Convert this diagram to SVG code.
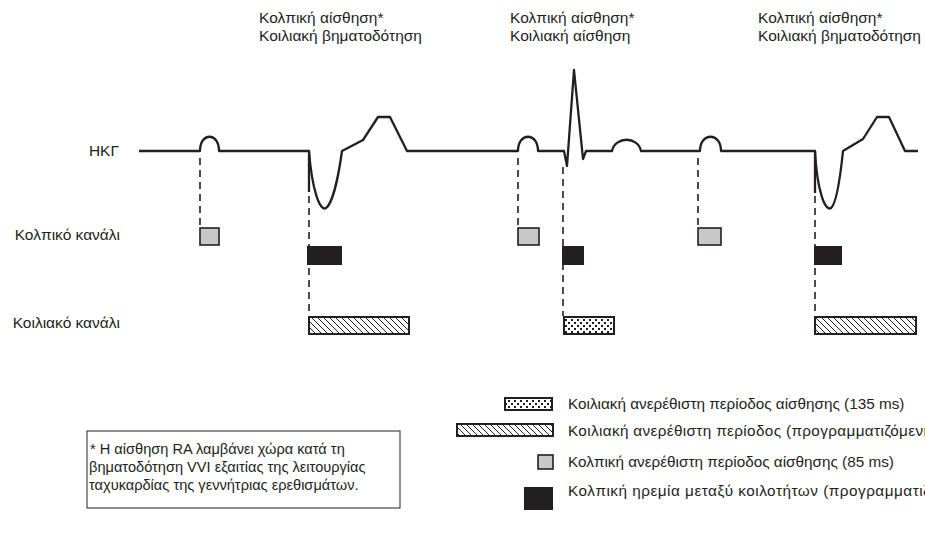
<svg xmlns="http://www.w3.org/2000/svg" width="925" height="542" viewBox="0 0 925 542">
<style>
text{font-family:"Liberation Sans",Arial,sans-serif;font-size:15.5px;fill:#231f20}
.ecg{fill:none;stroke:#231f20;stroke-width:2.3;stroke-linejoin:round}
.dash{fill:none;stroke:#231f20;stroke-width:1.6;stroke-dasharray:7,5}
.ab{fill:#c8c8c8;stroke:#231f20;stroke-width:1.6}
.blk{fill:#231f20}
.hat{fill:url(#hatch);stroke:#231f20;stroke-width:2}
.dot{fill:url(#dots);stroke:#231f20;stroke-width:2}
.fn{font-size:14.6px}
.lg{font-size:15.3px}
</style>
<defs>
<pattern id="hatch" width="6" height="6" patternUnits="userSpaceOnUse">
<rect width="6" height="6" fill="#fff"/>
<path d="M-1,-1 L7,7 M-1,5 L1,7 M5,-1 L7,1" stroke="#231f20" stroke-width="1"/>
</pattern>
<pattern id="dots" width="6" height="6" patternUnits="userSpaceOnUse">
<rect width="6" height="6" fill="#fff"/>
<rect x="1" y="1" width="2" height="2" fill="#231f20"/>
<rect x="4" y="4" width="2" height="2" fill="#231f20"/>
</pattern>
</defs>

<g id="labels-top">
<text x="259" y="23">Κολπική αίσθηση*</text>
<text x="259" y="41">Κοιλιακή βηματοδότηση</text>
<text x="510" y="23">Κολπική αίσθηση*</text>
<text x="510" y="41">Κοιλιακή αίσθηση</text>
<text x="758" y="23">Κολπική αίσθηση*</text>
<text x="758" y="41">Κοιλιακή βηματοδότηση</text>
</g>

<g id="labels-left" text-anchor="end">
<text x="119" y="156">ΗΚΓ</text>
<text x="120" y="240">Κολπικό κανάλι</text>
<text x="120" y="328">Κοιλιακό κανάλι</text>
</g>

<g id="ecg">
<path class="ecg" d="M139,151 H200 C200,132 219,132 219,151 H309 C312,190 320,212 326,208 C332,204 338,180 342,151 L363,140 L378,117 L390,117 L407,151 H518 C518,132 538,132 538,151 H564 L567,166 L574,70 L583,159 L586,151 H612 C615,136 638,136 641,151 H700 C700,132 721,132 721,151 H815 C817,190 825,212 831,208 C836,204 840,180 843,151 L863,139 L877,117 L889,117 L905,151 H918"/>
<path class="ecg" d="M309,151 V192 M815,151 V193"/>
</g>

<g id="connectors">
<path class="dash" d="M200,158 V228 M518,158 V228 M698,158 V228 M309,196 V316 M563,167 V316 M815,196 V316"/>
</g>

<g id="atrial-channel">
<rect class="ab" x="200" y="228" width="19" height="17"/>
<rect class="ab" x="518" y="228" width="21" height="17"/>
<rect class="ab" x="698" y="228" width="23" height="17"/>
<rect class="blk" x="307" y="246" width="35" height="19"/>
<rect class="blk" x="562" y="246" width="22" height="19"/>
<rect class="blk" x="814" y="246" width="28" height="19"/>
</g>

<g id="ventricular-channel">
<rect class="hat" x="309" y="317" width="100" height="17"/>
<rect class="dot" x="564" y="317" width="50" height="17"/>
<rect class="hat" x="815" y="317" width="101" height="17"/>
</g>

<g id="footnote">
<rect x="87" y="431" width="313" height="77" fill="none" stroke="#231f20" stroke-width="1"/>
<text class="fn" x="90" y="454">* Η αίσθηση RA λαμβάνει χώρα κατά τη</text>
<text class="fn" x="89" y="472">βηματοδότηση VVI εξαιτίας της λειτουργίας</text>
<text class="fn" x="89" y="490">ταχυκαρδίας της γεννήτριας ερεθισμάτων.</text>
</g>

<g id="legend">
<rect class="dot" x="505" y="398" width="47" height="12"/>
<text class="lg" x="568" y="409">Κοιλιακή ανερέθιστη περίοδος αίσθησης (135 ms)</text>
<rect class="hat" x="457" y="424" width="96" height="12"/>
<text class="lg" x="568" y="436" letter-spacing="0.35">Κοιλιακή ανερέθιστη περίοδος (προγραμματιζόμενη)</text>
<rect class="ab" x="538" y="455" width="15" height="14"/>
<text class="lg" x="568" y="467">Κολπική ανερέθιστη περίοδος αίσθησης (85 ms)</text>
<rect class="blk" x="524" y="487" width="29" height="23"/>
<text class="lg" x="568" y="496" letter-spacing="0.5">Κολπική ηρεμία μεταξύ κοιλοτήτων (προγραμματιζόμενη)</text>
</g>
</svg>
